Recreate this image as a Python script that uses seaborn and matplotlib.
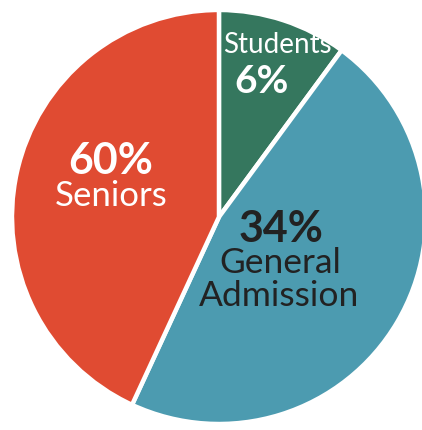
import matplotlib
matplotlib.use("Agg")
import matplotlib.pyplot as plt
import seaborn as sns

# slice sizes as drawn (share of the circle), and the labels printed on them
categories = ["Students", "General Admission", "Seniors"]
slice_sizes = [10.1, 46.8, 43.1]
pct_labels = ["6%", "34%", "60%"]
colors = ["#35775e", "#4c9bb0", "#e04b32"]

sns.set_theme(style="white")
plt.rcParams['font.family'] = ['Lato', 'DejaVu Sans']

fig = plt.figure(figsize=(4.22, 4.31), dpi=100)
ax = fig.add_axes([0, 0, 1, 1])
ax.pie(slice_sizes, colors=sns.color_palette(colors), startangle=90, counterclock=False,
       radius=1.0, wedgeprops=dict(edgecolor="white", linewidth=3.2))
ax.set_xlim(-1.058, 0.981)
ax.set_ylim(-1.029, 1.053)
ax.set_aspect("auto")
ax.axis("off")

def px(x, y):
    # pixel position in the picture -> data coords
    return (x - 219) / 207.0, (218 - y) / 207.0

dark = "#222222"
# Students
ax.text(*px(277, 45), "Students", color="white", fontsize=20, ha="center", va="center")
ax.text(*px(262, 82), pct_labels[0], color="white", fontsize=28, fontweight="bold", ha="center", va="center")
# Seniors
ax.text(*px(111, 161), pct_labels[2], color="white", fontsize=31, fontweight="bold", ha="center", va="center")
ax.text(*px(111, 196), "Seniors", color="white", fontsize=25, ha="center", va="center")
# General Admission
ax.text(*px(281, 229), pct_labels[1], color=dark, fontsize=31, fontweight="bold", ha="center", va="center")
ax.text(*px(280, 263), "General", color=dark, fontsize=25.5, ha="center", va="center")
ax.text(*px(279, 296), "Admission", color=dark, fontsize=25.5, ha="center", va="center")

fig.savefig("out.png", dpi=100)
